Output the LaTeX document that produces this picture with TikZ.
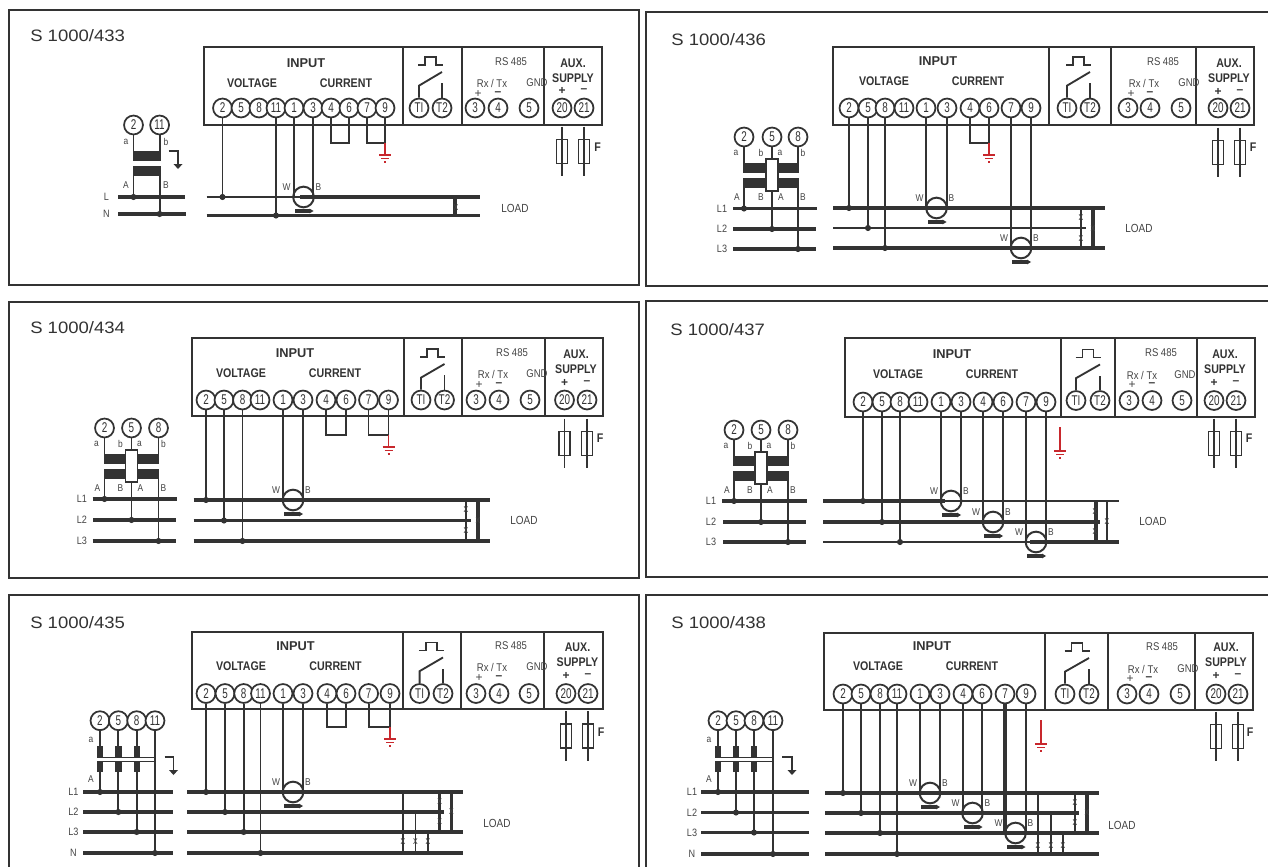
\documentclass[tikz,border=0pt]{standalone}
\usepackage{fontspec}
\usetikzlibrary{calc}
\setmainfont{Liberation Sans}
\newfontfamily\condf[FakeStretch=0.85]{Liberation Sans}
\newfontfamily\narrowf[FakeStretch=0.7]{Liberation Sans}
\newfontfamily\widef[FakeStretch=1.12]{Liberation Sans}
\definecolor{ink}{HTML}{333333}
\definecolor{txt}{HTML}{444444}
\definecolor{redg}{HTML}{C8282D}
\tikzset{
  frameline/.style={draw=ink,line width=1.5pt},
  boxline/.style={draw=ink,line width=1.5pt},
  term/.style={circle,draw=ink,fill=white,line width=1.3pt,minimum size=14.2pt,inner sep=0pt,text=ink,font=\narrowf\fontsize{10.6}{11}\selectfont},
  wire/.style={draw=ink,line width=1.4pt},
  thinwire/.style={draw=ink,line width=1.1pt},
  busl/.style={draw=ink,line width=2.3pt},
  busthin/.style={draw=ink,line width=1.8pt},
  busthick/.style={draw=ink,line width=2.6pt},
  ctcoil/.style={circle,draw=ink,line width=1.5pt,minimum size=15.5pt,inner sep=0pt},
  smalllbl/.style={inner sep=0pt,text=txt,font=\condf\fontsize{7.4}{8}\selectfont},
  xmark/.style={inner sep=0pt,text=txt,font=\condf\fontsize{8.2}{8}\selectfont},
  title/.style={inner sep=0pt,anchor=west,text=ink,font=\widef\fontsize{12.4}{13}\selectfont},
  bhead/.style={inner sep=0pt,text=ink,font=\condf\bfseries\fontsize{9.4}{10}\selectfont},
  ihead/.style={inner sep=0pt,text=ink,font=\bfseries\fontsize{9.6}{10}\selectfont},
  rhead/.style={inner sep=0pt,text=txt,font=\condf\fontsize{8.4}{9}\selectfont},
  loadt/.style={inner sep=0pt,text=txt,font=\condf\fontsize{8.8}{9}\selectfont},
  fuse/.style={rectangle,draw=ink,line width=1.2pt,minimum width=8pt,minimum height=18pt,inner sep=0pt},
  sign/.style={inner sep=0pt,text=ink,font=\bfseries\fontsize{9}{9}\selectfont},
  signr/.style={inner sep=0pt,text=txt,font=\fontsize{9}{9}\selectfont},
  redw/.style={draw=redg,line width=1.3pt},
}
\newcounter{auto}
\newcommand\lbl[3]{\stepcounter{auto}\node[smalllbl] (lbl\theauto) at (#1,#2) {#3};}
\newcommand\xm[2]{\stepcounter{auto}\node[xmark] (xm\theauto) at (#1,#2) {x};}
\newcommand\frameb[5]{\draw[frameline] (#2,#3) rectangle (#4,#5);}
\newcommand\headbox[8]{%
  \draw[boxline] (#2,#3) rectangle (#4,#5);
  \draw[boxline] (#6,#3) -- (#6,#5);
  \draw[boxline] (#7,#3) -- (#7,#5);
  \draw[boxline] (#8,#3) -- (#8,#5);}
\newcommand\terms[3]{\foreach \n/\l/\x in {#3}{\node[term] (#1-\n) at (\x,#2) {\l};}}
\newcommand\inputt[6]{%
  \node[ihead] (#1-input) at (#2,#3) {INPUT};
  \node[bhead] (#1-volt) at (#4,#6) {VOLTAGE};
  \node[bhead] (#1-curr) at (#5,#6) {CURRENT};}
\newcommand\rst[8]{%
  \node[rhead] (#1-rs) at (#2,#3) {RS 485};
  \node[rhead] (#1-rx) at (#4,#5) {Rx / Tx};
  \node[rhead] (#1-gnd) at (#6,#5) {GND};
  \node[signr] (#1-rp) at (#7,#8) {+};
  \node[sign] (#1-rm) at (#1-r4 |- #1-rp) {–};}
\newcommand\auxt[6]{%
  \node[bhead] (#1-aux) at (#2,#3) {AUX.};
  \node[bhead] (#1-sup) at (#2,#4) {SUPPLY};
  \node[sign] (#1-ap) at (#5,#6) {+};
  \node[sign] (#1-am) at (#1-a21 |- #1-ap) {–};}
\newcommand\switchs[1]{%
  \draw[wire] (#1-t1.north) -- ++(0,-12) -- ($(#1-t2)+(0,-36)$);
  \draw[wire] (#1-t2.north) -- ($(#1-t2)+(0,-25)$);
  \coordinate (#1-pc) at ($($(#1-t1)!.5!(#1-t2)$)+(0,-43)$);
  \draw[wire] ($(#1-pc)+(-12.5,0)$) -- ++(7,0) -- ++(0,-8) -- ++(11,0) -- ++(0,8) -- ++(7,0);}
\newcommand\fuselabel[3]{\node[bhead] (#1-Flab) at (#2,#3) {F};}
\newcommand\busline[5]{%
  \coordinate (#1-a) at (#2,#4);
  \coordinate (#1-b) at (#3,#4);
  \draw[#5] (#1-a) -- (#1-b);}
\newcommand\buslbl[4]{\stepcounter{auto}\node[smalllbl,font=\condf\fontsize{8}{8}\selectfont] (lbl\theauto) at (#1,#2) {#3};}
\newcommand\tap[2]{%
  \draw[wire] (#1.south) -- (#1.south |- #2-a);
  \fill[ink] (#1.south |- #2-a) circle (2.3pt);}
\newcommand\ctr[4]{%
  \coordinate (#1-m) at ($(#2.south)!.5!(#3.south)$);
  \coordinate (#1-c) at (#1-m |- #4-a);
  \draw[wire] (#2.south) -- (#2.south |- #1-c);
  \draw[wire] (#3.south) -- (#3.south |- #1-c);
  \node[ctcoil] (#1) at (#1-c) {};
  \node[smalllbl] (#1-w) at ($(#1-c)+(-17,-10)$) {W};
  \node[smalllbl] (#1-bb) at ($(#1-c)+(15,-10)$) {B};
  \fill[ink] ($(#1-c)+(-9,12.2)$) rectangle ($(#1-c)+(6,15.8)$);
  \fill[ink] ($(#1-c)+(6,11.6)$) -- ($(#1-c)+(10,14)$) -- ($(#1-c)+(6,16.4)$) -- cycle;}
\newcommand\linkw[4]{%
  \coordinate (#1) at (0,#4);
  \draw[wire] (#2.south) -- (#2.south |- #1) -- (#3.south |- #1) -- (#3.south);}
\newcommand\earthg[4]{%
  \coordinate (#1) at (#2,#3);
  \draw[redw] (#1) -- (#2,#4);
  \draw[redw] ($(#2,#4)+(-6,0)$) -- ($(#2,#4)+(6,0)$);
  \draw[redw] ($(#2,#4)+(-4,3.4)$) -- ($(#2,#4)+(4,3.4)$);
  \draw[redw] ($(#2,#4)+(-1,7)$) -- ($(#2,#4)+(1,7)$);}
\newcommand\garrow[5]{%
  \coordinate (#1) at (#2,#3);
  \draw[wire] (#1) -- (#4,#3) -- (#4,#5);
  \fill[ink] ($(#4,#5)+(-4.5,-1)$) -- ($(#4,#5)+(4.5,-1)$) -- ($(#4,#5)+(0,4)$) -- cycle;}
\newcommand\vbar[5]{%
  \coordinate (#2) at (#3,0);
  \draw[#1] (#2 |- #4-a) -- (#2 |- #5-a);}
\newcommand\vtthree[5]{%
  \fill[white] ({#2-3},{#5+36}) rectangle ({#4+3},{#5+41});
  \fill[ink] (#2,{#5+26}) rectangle ({#3-6},{#5+36});
  \fill[ink] (#2,{#5+41}) rectangle ({#3-6},{#5+51});
  \fill[ink] ({#3+6},{#5+26}) rectangle (#4,{#5+36});
  \fill[ink] ({#3+6},{#5+41}) rectangle (#4,{#5+51});
  \draw[wire,fill=white] ({#3-6},{#5+22}) rectangle ({#3+6},{#5+54});
  \lbl{#2-8}{#5+16}{a}\lbl{#3-11}{#5+16}{b}\lbl{#3+8}{#5+16}{a}\lbl{#4+5}{#5+16}{b}
  \lbl{#2-7}{#5+60}{A}\lbl{#3-11}{#5+60}{B}\lbl{#3+9}{#5+60}{A}\lbl{#4+5}{#5+60}{B}}
\newcommand\vtfour[4]{%
  \fill[white] ({#1-5},758) rectangle ({#4+1},760.5);
  \foreach \xx in {#1,#2,#3}{\fill[ink] ({\xx-3.2},746) rectangle ({\xx+3.2},757.5);
    \fill[ink] ({\xx-3.2},761) rectangle ({\xx+3.2},772);}
  \draw[wire] ({#1-3},757.5) -- (#4,757.5);
  \draw[thinwire] ({#1-3},761.5) -- (#4,761.5);
  \lbl{#1-9}{740}{a}\lbl{#1-9}{779}{A}}
\begin{document}
\begin{tikzpicture}[x=.75pt,y=-.75pt]
\useasboundingbox (0,0) rectangle (1268,867);
\clip (0,0) rectangle (1268,867);
\fill[white] (0,0) rectangle (1268,867);
% ---------- 433
\frameb{a}{9}{10}{639}{285}
\node[title] (a-title) at (30,36) {S 1000/433};
\headbox{a}{204}{47}{602}{125}{403}{462}{544}
\terms{a}{108}{v2/2/222.5,v5/5/241,v8/8/259,v11/11/276,c1/1/294,c3/3/313,c4/4/331,c6/6/349,c7/7/367,c9/9/385,t1/TI/419,t2/T2/442,r3/3/475,r4/4/498,r5/5/529,a20/20/562,a21/21/584}
\inputt{a}{306}{63}{252}{346}{83}
\rst{a}{511}{62}{492}{83}{537}{478}{94}
\auxt{a}{573}{63}{78}{562}{91}
\switchs{a}
\node[fuse] (a-f1) at (562,151.5) {};\node[fuse] (a-f2) at (584,151.5) {};
\draw[wire] ($(a-f1.north)+(0,-12)$) -- ($(a-f1.south)+(0,12)$);
\draw[wire] ($(a-f2.north)+(0,-12)$) -- ($(a-f2.south)+(0,12)$);
\fuselabel{a}{597.5}{147}
\linkw{a-k1}{a-c4}{a-c6}{143}
\linkw{a-k2}{a-c7}{a-c9}{143}
\earthg{a-g}{385}{143}{155}
\node[term] (a-l2) at (133.5,125) {2};
\node[term] (a-l11) at (159.6,125) {11};
\busline{a-Lx}{118}{185}{197}{busl}
\busline{a-Nx}{118}{186}{214}{busl}
\buslbl{106.5}{197}{L}{}\buslbl{106.5}{214}{N}{}
\tap{a-l2}{a-Lx}
\tap{a-l11}{a-Nx}
\fill[white] (130,161) rectangle (163,166);
\fill[ink] (133,151) rectangle (160,161);
\fill[ink] (133,166) rectangle (160,176);
\lbl{126}{142}{a}\lbl{166}{142}{b}\lbl{126}{185}{A}\lbl{166}{185}{B}
\garrow{a-ga}{168.5}{151}{178}{165}
\busline{a-L}{206.5}{300}{197}{busthin}
\busline{a-LT}{300}{480}{197}{busthick}
\busline{a-N}{206.5}{480}{215.5}{busl}
\tap{a-v2}{a-L}
\tap{a-v11}{a-N}
\ctr{a-ct}{a-c1}{a-c3}{a-L}
\vbar{busl}{a-vb}{455}{a-L}{a-N}
\xm{456}{208}
\node[loadt] (a-load) at (515,208) {LOAD};
% ---------- 436
\frameb{b}{646}{12}{1290}{286}
\node[title] (b-title) at (671,40) {S 1000/436};
\headbox{b}{833}{47}{1254}{125}{1049}{1111}{1196}
\terms{b}{108}{v2/2/849,v5/5/868,v8/8/885,v11/11/904,c1/1/926,c3/3/947,c4/4/970,c6/6/989,c7/7/1011,c9/9/1031,t1/TI/1067,t2/T2/1090,r3/3/1128,r4/4/1150,r5/5/1181,a20/20/1218,a21/21/1240}
\inputt{b}{938}{61}{884}{978}{81.5}
\rst{b}{1163}{62}{1144}{83}{1189}{1131}{94}
\auxt{b}{1229}{63}{78}{1218}{92}
\switchs{b}
\node[fuse] (b-f1) at (1218,152.5) {};\node[fuse] (b-f2) at (1240,152.5) {};
\draw[wire] ($(b-f1.north)+(0,-12)$) -- ($(b-f1.south)+(0,12)$);
\draw[wire] ($(b-f2.north)+(0,-12)$) -- ($(b-f2.south)+(0,12)$);
\fuselabel{b}{1253}{147}
\linkw{b-k1}{b-c4}{b-c6}{143}
\earthg{b-g}{989}{143}{155}
\node[term] (b-l2) at (744,137) {2};
\node[term] (b-l5) at (772,137) {5};
\node[term] (b-l8) at (798,137) {8};
\busline{b-L1x}{733}{817}{208.5}{busl}
\busline{b-L2x}{733}{816}{229}{busl}
\busline{b-L3x}{733}{816}{249}{busl}
\buslbl{722}{208.5}{L1}{}\buslbl{722}{229}{L2}{}\buslbl{722}{249}{L3}{}
\tap{b-l2}{b-L1x}\tap{b-l5}{b-L2x}\tap{b-l8}{b-L3x}
\vtthree{b}{744}{772}{798}{137}
\busline{b-L1}{833}{1105}{208}{busthick}
\busline{b-L2}{833}{1086}{228}{busthin}
\busline{b-L3}{833}{1105}{248}{busthick}
\tap{b-v2}{b-L1}\tap{b-v5}{b-L2}\tap{b-v8}{b-L3}
\ctr{b-ct1}{b-c1}{b-c3}{b-L1}
\ctr{b-ct2}{b-c7}{b-c9}{b-L3}
\vbar{busl}{b-vb1}{1093}{b-L1}{b-L3}
\vbar{wire}{b-vb2}{1081}{b-L1}{b-L3}
\xm{1093}{229}\xm{1081}{218}\xm{1081}{239}
\node[loadt] (b-load) at (1139,228) {LOAD};
% ---------- 434
\frameb{c}{9}{302}{639}{578}
\node[title] (c-title) at (30,328) {S 1000/434};
\headbox{c}{192}{338}{603}{416}{404}{461.5}{545}
\terms{c}{400}{v2/2/206,v5/5/224,v8/8/242.5,v11/11/260,c1/1/283,c3/3/303,c4/4/326,c6/6/346,c7/7/368.5,c9/9/388.5,t1/TI/421,t2/T2/444.5,r3/3/476,r4/4/499,r5/5/530,a20/20/564.5,a21/21/587}
\inputt{c}{295}{353}{241}{335}{373}
\rst{c}{512}{353}{493}{374}{537}{479}{385}
\auxt{c}{576}{354}{369}{564.5}{383}
\switchs{c}
\node[fuse] (c-f1) at (564.5,443.5) {};\node[fuse] (c-f2) at (587,443.5) {};
\draw[wire] ($(c-f1.north)+(0,-12)$) -- ($(c-f1.south)+(0,12)$);
\draw[wire] ($(c-f2.north)+(0,-12)$) -- ($(c-f2.south)+(0,12)$);
\fuselabel{c}{600}{438}
\linkw{c-k1}{c-c4}{c-c6}{435}
\linkw{c-k2}{c-c7}{c-c9}{435}
\earthg{c-g}{388.5}{435}{447}
\node[term] (c-l2) at (104.5,428) {2};
\node[term] (c-l5) at (131.5,428) {5};
\node[term] (c-l8) at (158.5,428) {8};
\busline{c-L1x}{92.5}{177}{499}{busl}
\busline{c-L2x}{93}{176}{520}{busl}
\busline{c-L3x}{92.5}{176}{541}{busl}
\buslbl{82}{499}{L1}{}\buslbl{82}{520}{L2}{}\buslbl{82}{541}{L3}{}
\tap{c-l2}{c-L1x}\tap{c-l5}{c-L2x}\tap{c-l8}{c-L3x}
\vtthree{c}{104.5}{131.5}{158.5}{428}
\busline{c-L1}{193.5}{490}{500}{busl}
\busline{c-L2}{193.5}{470.5}{520.5}{busl}
\busline{c-L3}{193.5}{490}{541}{busl}
\tap{c-v2}{c-L1}\tap{c-v5}{c-L2}\tap{c-v8}{c-L3}
\ctr{c-ct1}{c-c1}{c-c3}{c-L1}
\vbar{busl}{c-vb1}{478}{c-L1}{c-L3}
\vbar{thinwire}{c-vb2}{466}{c-L1}{c-L3}
\xm{478}{520.5}\xm{466}{510}\xm{466}{531}
\node[loadt] (c-load) at (524,520) {LOAD};
% ---------- 437
\frameb{d}{646}{301}{1290}{577}
\node[title] (d-title) at (670,330) {S 1000/437};
\headbox{d}{845}{338}{1255}{417}{1061}{1115}{1197}
\terms{d}{402}{v2/2/863,v5/5/882,v8/8/900,v11/11/918,c1/1/941,c3/3/961,c4/4/983,c6/6/1003,c7/7/1026,c9/9/1046}
\terms{d}{400.5}{t1/TI/1076,t2/T2/1100,r3/3/1129,r4/4/1152,r5/5/1182,a20/20/1214,a21/21/1236}
\inputt{d}{952}{354}{898}{992}{374.5}
\rst{d}{1161}{353}{1142}{375}{1185}{1132}{385}
\auxt{d}{1225}{354}{369}{1214}{383}
\switchs{d}
\node[fuse] (d-f1) at (1214,443.5) {};\node[fuse] (d-f2) at (1236,443.5) {};
\draw[wire] ($(d-f1.north)+(0,-12)$) -- ($(d-f1.south)+(0,12)$);
\draw[wire] ($(d-f2.north)+(0,-12)$) -- ($(d-f2.south)+(0,12)$);
\fuselabel{d}{1249}{438}
\earthg{d-g}{1060}{427}{451}
\node[term] (d-l2) at (734,430) {2};
\node[term] (d-l5) at (761,430) {5};
\node[term] (d-l8) at (788,430) {8};
\busline{d-L1x}{722}{807}{501}{busl}
\busline{d-L2x}{723}{806}{522}{busl}
\busline{d-L3x}{723}{806}{542}{busl}
\buslbl{711}{501}{L1}{}\buslbl{711}{522}{L2}{}\buslbl{711}{542}{L3}{}
\tap{d-l2}{d-L1x}\tap{d-l5}{d-L2x}\tap{d-l8}{d-L3x}
\vtthree{d}{734}{761}{788}{430}
\busline{d-L1a}{823}{945}{501}{busthick}
\busline{d-L1}{945}{1119}{501}{busthin}
\busline{d-L2}{823}{1100}{522}{busl}
\busline{d-L3}{823}{1030}{542}{busthin}
\busline{d-L3b}{1030}{1119}{542}{busthick}
\coordinate (d-L1c-a) at (823,501);
\coordinate (d-L3c-a) at (823,542);
\tap{d-v2}{d-L1c}\tap{d-v5}{d-L2}\tap{d-v8}{d-L3c}
\ctr{d-ct1}{d-c1}{d-c3}{d-L1c}
\ctr{d-ct2}{d-c4}{d-c6}{d-L2}
\ctr{d-ct3}{d-c7}{d-c9}{d-L3c}
\vbar{busl}{d-vb1}{1096}{d-L1c}{d-L3c}
\vbar{wire}{d-vb2}{1107}{d-L1c}{d-L3c}
\xm{1095}{512}\xm{1095}{532}\xm{1107}{521.5}
\node[loadt] (d-load) at (1153,521) {LOAD};
% ---------- 435
\frameb{e}{9}{595}{639}{885}
\node[title] (e-title) at (30,623) {S 1000/435};
\headbox{e}{192}{632}{602.5}{709}{403}{461}{544}
\terms{e}{693.5}{v2/2/206,v5/5/225,v8/8/243.7,v11/11/260.5,c1/1/283,c3/3/303,c4/4/327,c6/6/346,c7/7/368.6,c9/9/390,t1/TI/419.6,t2/T2/443,r3/3/476,r4/4/499,r5/5/529,a20/20/566,a21/21/588}
\inputt{e}{295.5}{646}{241}{335.5}{666}
\rst{e}{511}{646}{492}{667}{537}{479}{678}
\auxt{e}{577.5}{647}{662}{566}{676}
\switchs{e}
\node[fuse] (e-f1) at (566,736) {};\node[fuse] (e-f2) at (588,736) {};
\draw[wire] ($(e-f1.north)+(0,-12)$) -- ($(e-f1.south)+(0,12)$);
\draw[wire] ($(e-f2.north)+(0,-12)$) -- ($(e-f2.south)+(0,12)$);
\fuselabel{e}{601}{732}
\linkw{e-k1}{e-c4}{e-c6}{727}
\linkw{e-k2}{e-c7}{e-c9}{727}
\earthg{e-g}{390}{727}{739}
\node[term] (e-l2) at (100,720.7) {2};
\node[term] (e-l5) at (118.4,720.7) {5};
\node[term] (e-l8) at (136.7,720.7) {8};
\node[term] (e-l11) at (155,720.7) {11};
\busline{e-L1x}{83}{172.5}{792}{busl}
\busline{e-L2x}{83}{172.5}{812}{busl}
\busline{e-L3x}{83}{172.5}{832}{busl}
\busline{e-Nx}{83}{172.5}{853}{busl}
\buslbl{73.5}{792}{L1}{}\buslbl{73.5}{812}{L2}{}\buslbl{73.5}{832}{L3}{}\buslbl{73.5}{853}{N}{}
\tap{e-l2}{e-L1x}\tap{e-l5}{e-L2x}\tap{e-l8}{e-L3x}\tap{e-l11}{e-Nx}
\vtfour{100}{118.4}{136.7}{155}
\draw[wire] (155,757) -- (155,762);
\garrow{e-ga}{164.5}{757}{173.5}{771}
\busline{e-L1}{187}{463}{792}{busl}
\busline{e-L2}{187}{444}{812}{busl}
\busline{e-L3}{187}{463}{832}{busl}
\busline{e-N}{187}{463}{853}{busl}
\tap{e-v2}{e-L1}\tap{e-v5}{e-L2}\tap{e-v8}{e-L3}\tap{e-v11}{e-N}
\ctr{e-ct1}{e-c1}{e-c3}{e-L1}
\vbar{busl}{e-vb1}{451.5}{e-L1}{e-L3}
\vbar{busl}{e-vb2}{439.6}{e-L1}{e-L3}
\vbar{wire}{e-vb3}{403}{e-L1}{e-N}
\vbar{thinwire}{e-vb4}{415.5}{e-L2}{e-N}
\vbar{thinwire}{e-vb5}{428}{e-L3}{e-N}
\xm{451.5}{812}\xm{439.6}{801.5}\xm{439.6}{822}\xm{403}{842}\xm{415.5}{842}\xm{428}{842}
\node[loadt] (e-load) at (497,823.5) {LOAD};
% ---------- 438
\frameb{f}{646}{595}{1290}{885}
\node[title] (f-title) at (671,623) {S 1000/438};
\headbox{f}{824}{632.5}{1253}{710}{1045}{1108}{1195}
\terms{f}{694}{v2/2/843,v5/5/861,v8/8/880,v11/11/897,c1/1/920,c3/3/940,c4/4/963,c6/6/982,c7/7/1005,c9/9/1026,t1/TI/1065,t2/T2/1089,r3/3/1127,r4/4/1149,r5/5/1180,a20/20/1216,a21/21/1238}
\inputt{f}{932}{646}{878}{972}{666.5}
\rst{f}{1162}{647}{1143}{669}{1188}{1130}{679}
\auxt{f}{1226}{647}{662}{1216}{676}
\switchs{f}
\node[fuse] (f-f1) at (1216,736.5) {};\node[fuse] (f-f2) at (1238,736.5) {};
\draw[wire] ($(f-f1.north)+(0,-12)$) -- ($(f-f1.south)+(0,12)$);
\draw[wire] ($(f-f2.north)+(0,-12)$) -- ($(f-f2.south)+(0,12)$);
\fuselabel{f}{1250}{732}
\earthg{f-g}{1041}{720}{744}
\node[term] (f-l2) at (718,720.7) {2};
\node[term] (f-l5) at (736,720.7) {5};
\node[term] (f-l8) at (754,720.7) {8};
\node[term] (f-l11) at (773,720.7) {11};
\busline{f-L1x}{701}{809}{792}{busl}
\busline{f-L2x}{701}{809}{812.5}{busl}
\busline{f-L3x}{701}{809}{832.5}{busl}
\busline{f-Nx}{701}{809}{854}{busl}
\buslbl{692}{792}{L1}{}\buslbl{692}{812.5}{L2}{}\buslbl{692}{832.5}{L3}{}\buslbl{692}{854}{N}{}
\tap{f-l2}{f-L1x}\tap{f-l5}{f-L2x}\tap{f-l8}{f-L3x}\tap{f-l11}{f-Nx}
\vtfour{718}{736}{754}{773}
\draw[wire] (773,757) -- (773,762);
\garrow{f-ga}{782}{757}{792}{771}
\busline{f-L1}{825}{1099}{793}{busl}
\busline{f-L2}{825}{1079}{813}{busl}
\busline{f-L3}{825}{1099}{833}{busl}
\busline{f-N}{825}{1099}{854}{busl}
\tap{f-v2}{f-L1}\tap{f-v5}{f-L2}\tap{f-v8}{f-L3}\tap{f-v11}{f-N}
\ctr{f-ct1}{f-c1}{f-c3}{f-L1}
\ctr{f-ct2}{f-c4}{f-c6}{f-L2}
\ctr{f-ct3}{f-c7}{f-c9}{f-L3}
\draw[busl] (f-c7.south) -- (f-c7.south |- f-L3-a);
\vbar{busl}{f-vb1}{1087}{f-L1}{f-L3}
\vbar{wire}{f-vb2}{1075}{f-L1}{f-L3}
\vbar{wire}{f-vb3}{1038}{f-L1}{f-N}
\vbar{thinwire}{f-vb4}{1051}{f-L2}{f-N}
\vbar{thinwire}{f-vb5}{1063}{f-L3}{f-N}
\xm{1087}{813}\xm{1075}{803}\xm{1075}{823}\xm{1038}{845.5}\xm{1051}{845.5}\xm{1063}{845.5}
\node[loadt] (f-load) at (1122,825) {LOAD};
\end{tikzpicture}
\end{document}
